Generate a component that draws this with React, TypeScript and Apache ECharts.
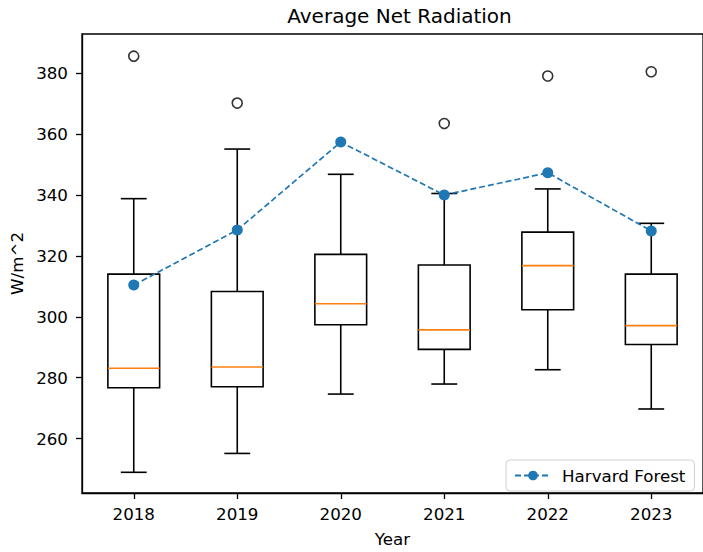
import React, { useEffect, useRef } from "react";
import * as echarts from "echarts";

const years = ["2018", "2019", "2020", "2021", "2022", "2023"];
const whiskerLow = [248.9, 255.1, 274.6, 277.9, 282.6, 269.7];
const q1 = [276.7, 277.0, 297.4, 289.3, 302.3, 290.9];
const median = [283.1, 283.5, 304.3, 295.7, 316.8, 297.1];
const q3 = [314.0, 308.3, 320.5, 317.0, 327.8, 314.0];
const whiskerHigh = [338.8, 355.1, 346.8, 340.5, 342.0, 330.7];
const outliers: [string, number][] = [
  ["2018", 385.6],
  ["2019", 370.2],
  ["2021", 363.5],
  ["2022", 379.1],
  ["2023", 380.5],
];
const harvardForest = [310.4, 328.5, 357.4, 340.0, 347.3, 328.2];
const yTicks = [260, 280, 300, 320, 340, 360, 380];

const FONT = "DejaVu Sans";

export default function App() {
  const ref = useRef<HTMLDivElement>(null);
  useEffect(() => {
    if (!ref.current) return;
    const chart = echarts.init(ref.current, undefined, { renderer: "svg" });
    const boxData = years.map((_, i) => [
      i,
      whiskerLow[i],
      q1[i],
      median[i],
      q3[i],
      whiskerHigh[i],
    ]);
    chart.setOption({
      animation: false,
      backgroundColor: "#fff",
      title: {
        text: "Average Net Radiation",
        left: 394.5,
        textAlign: "center",
        top: 1,
        textStyle: { fontFamily: FONT, fontSize: 20, fontWeight: "normal", color: "#000" },
      },
      grid: {
        left: 82,
        top: 34,
        width: 625,
        height: 466,
        show: true,
        borderColor: "#000",
        borderWidth: 1.3,
        backgroundColor: "transparent",
      },
      legend: {
        data: ["Harvard Forest"],
        left: 506,
        top: 460,
        orient: "horizontal",
        borderColor: "#d0d0d0",
        borderWidth: 1,
        borderRadius: 4,
        padding: [7, 9, 7, 8],
        itemWidth: 36,
        itemHeight: 12,
        itemGap: 8,
        textStyle: { fontFamily: FONT, fontSize: 16.7, color: "#000", padding: [0, 0, 0, 6] },
      },
      xAxis: {
        type: "category",
        data: years,
        boundaryGap: true,
        name: "Year",
        nameLocation: "middle",
        nameGap: 37,
        nameTextStyle: { fontFamily: FONT, fontSize: 16.7, color: "#000" },
        axisLine: { show: true, lineStyle: { color: "#000", width: 1.3 } },
        axisTick: { show: true, alignWithLabel: true, length: 6, lineStyle: { color: "#000", width: 1.3 } },
        axisLabel: { fontFamily: FONT, fontSize: 16.7, color: "#000", margin: 12 },
        splitLine: { show: false },
      },
      yAxis: {
        type: "value",
        min: 242.1,
        max: 392.9,
        name: "W/m^2",
        nameLocation: "middle",
        nameGap: 56,
        nameTextStyle: { fontFamily: FONT, fontSize: 16.7, color: "#000" },
        axisLine: { show: true, lineStyle: { color: "#000", width: 1.3 } },
        axisTick: { show: true, length: 6, customValues: yTicks, lineStyle: { color: "#000", width: 1.3 } },
        axisLabel: { fontFamily: FONT, fontSize: 16.7, color: "#000", margin: 14, customValues: yTicks },
        splitLine: { show: false },
      },
      series: [
        {
          type: "custom",
          name: "boxes",
          data: boxData,
          encode: { x: 0, y: [1, 2, 3, 4, 5] },
          z: 2,
          renderItem: (params: any, api: any) => {
            const x = api.value(0);
            const pLo = api.coord([x, api.value(1)]);
            const pQ1 = api.coord([x, api.value(2)]);
            const pMed = api.coord([x, api.value(3)]);
            const pQ3 = api.coord([x, api.value(4)]);
            const pHi = api.coord([x, api.value(5)]);
            const band = api.size([1, 0])[0];
            const bw = band * 0.5;
            const cw = band * 0.25;
            const cx = pQ1[0];
            const black = { stroke: "#000", lineWidth: 1.6, fill: null };
            return {
              type: "group",
              children: [
                { type: "line", shape: { x1: cx, y1: pQ1[1], x2: cx, y2: pLo[1] }, style: black },
                { type: "line", shape: { x1: cx, y1: pQ3[1], x2: cx, y2: pHi[1] }, style: black },
                { type: "line", shape: { x1: cx - cw / 2, y1: pLo[1], x2: cx + cw / 2, y2: pLo[1] }, style: black },
                { type: "line", shape: { x1: cx - cw / 2, y1: pHi[1], x2: cx + cw / 2, y2: pHi[1] }, style: black },
                {
                  type: "rect",
                  shape: { x: cx - bw / 2, y: pQ3[1], width: bw, height: pQ1[1] - pQ3[1] },
                  style: { stroke: "#000", lineWidth: 1.6, fill: "none" },
                },
                {
                  type: "line",
                  shape: { x1: cx - bw / 2, y1: pMed[1], x2: cx + bw / 2, y2: pMed[1] },
                  style: { stroke: "#ff7f0e", lineWidth: 1.6 },
                },
              ],
            };
          },
        },
        {
          type: "scatter",
          name: "outliers",
          data: outliers,
          symbol: "circle",
          symbolSize: 10,
          itemStyle: { color: "#fff", borderColor: "#000", borderWidth: 1.6 },
          z: 3,
        },
        {
          type: "line",
          name: "Harvard Forest",
          data: harvardForest,
          symbol: "circle",
          symbolSize: 11,
          showSymbol: true,
          color: "#1f77b4",
          itemStyle: { color: "#1f77b4" },
          lineStyle: { color: "#1f77b4", width: 1.7, type: [6, 3] },
          z: 4,
        },
      ],
    });
    return () => chart.dispose();
  }, []);
  return (
    <div
      ref={ref}
      style={{ position: "fixed", left: 0, top: 0, width: 703, height: 552, background: "#fff" }}
    />
  );
}
